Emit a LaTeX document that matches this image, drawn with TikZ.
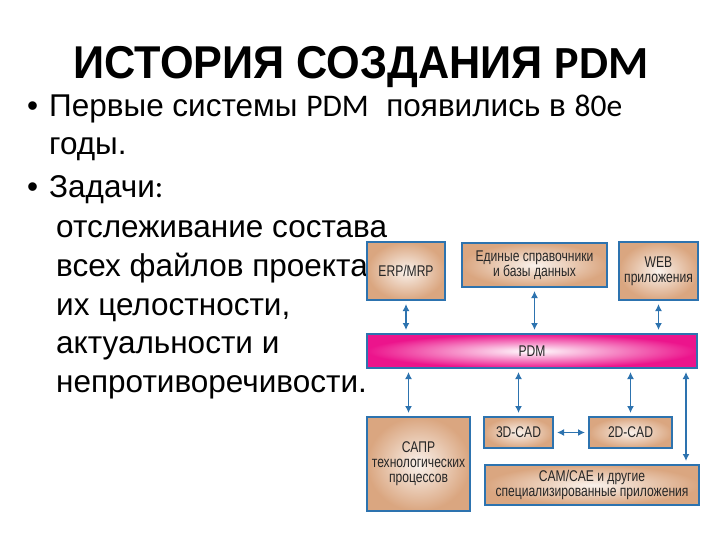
\documentclass[tikz,border=0pt]{standalone}
\usepackage{fontspec}
\setmainfont{Liberation Sans}
\newfontfamily\calfont{Carlito}
\newfontfamily\titlefont[FakeStretch=0.94]{Liberation Sans}
\newfontfamily\narrowfont[FakeStretch=0.78]{Liberation Sans}
\usetikzlibrary{arrows.meta,calc}

\definecolor{frameblue}{RGB}{45,115,175}
\definecolor{boxtan}{RGB}{218,166,128}
\definecolor{pdmpink}{RGB}{236,20,140}

\tikzset{
  blk/.style={draw=frameblue,line width=2pt,inner color=white!85!boxtan,outer color=boxtan,
    align=center,inner sep=1pt,text=black!85,
    font=\narrowfont\fontsize{15.5}{15}\selectfont},
  link/.style={{Latex[length=7pt,width=7pt]}-{Latex[length=7pt,width=7pt]},draw=frameblue,line width=1.8pt,shorten <=3pt,shorten >=3pt},
  txt/.style={anchor=base west,inner sep=0pt,font=\fontsize{31.5}{37}\selectfont}
}

\begin{document}
\begin{tikzpicture}[x=1pt,y=-1pt]
	\useasboundingbox (0,0) rectangle (720,540);

	% title and text
	\node[anchor=base,inner sep=0pt,font=\titlefont\bfseries\fontsize{46}{50}\selectfont] (title) at (361,79) {ИСТОРИЯ СОЗДАНИЯ {\calfont PDM}};
	\node[txt] (dot1) at (27,117) {•};
	\node[txt] (line1) at (49,117) {Первые системы {\calfont PDM}\ \ появились в {\calfont 80е}};
	\node[txt] (line2) at (49,155) {годы.};
	\node[txt] (dot2) at (27,198) {•};
	\node[txt] (line3) at (49,198) {Задачи{\calfont :}};
	\node[txt] (task1) at (56,237) {отслеживание состава};
	\node[txt] (task2) at (56,276) {всех файлов проекта,};
	\node[txt] (task3) at (56,315) {их целостности,};
	\node[txt] (task4) at (56,353) {актуальности и};
	\node[txt] (task5) at (56,392) {непротиворечивости.};

	% diagram
	\node[blk,minimum width=78pt,minimum height=58pt]  (erp)  at (406,271)   {ERP/MRP};
	\node[blk,minimum width=145pt,minimum height=44pt] (db)   at (534.5,265) {Единые справочники\\и базы данных};
	\node[blk,minimum width=79pt,minimum height=58pt]  (web)  at (658.5,271) {WEB\\приложения};
	\node[blk,minimum width=330pt,minimum height=34pt,inner color=white,outer color=pdmpink] (pdm) at (532,351) {PDM};
	\node[blk,minimum width=103pt,minimum height=94pt] (sapr) at (418.5,464) {САПР\\технологических\\процессов};
	\node[blk,minimum width=69pt,minimum height=31pt]  (cad3) at (518.5,432.5) {3D-CAD};
	\node[blk,minimum width=83pt,minimum height=31pt]  (cad2) at (630.5,432.5) {2D-CAD};
	\node[blk,minimum width=214pt,minimum height=40pt] (cam)  at (592,485) {CAM/CAE и другие\\специализированные приложения};

	\draw[link] (erp.south) -- (erp.south |- pdm.north);
	\draw[link] (db.south) -- (db.south |- pdm.north);
	\draw[link] (web.south) -- (web.south |- pdm.north);
	\draw[link] ([xshift=-10pt]sapr.north) -- ([xshift=-10pt]sapr.north |- pdm.south);
	\draw[link] (cad3.north) -- (cad3.north |- pdm.south);
	\draw[link] (cad2.north) -- (cad2.north |- pdm.south);
	\draw[link] ([xshift=-14pt]cam.north east) -- ([xshift=-14pt]cam.north east |- pdm.south);
	\draw[link] (cad3.east) -- (cad2.west);

\end{tikzpicture}
\end{document}
